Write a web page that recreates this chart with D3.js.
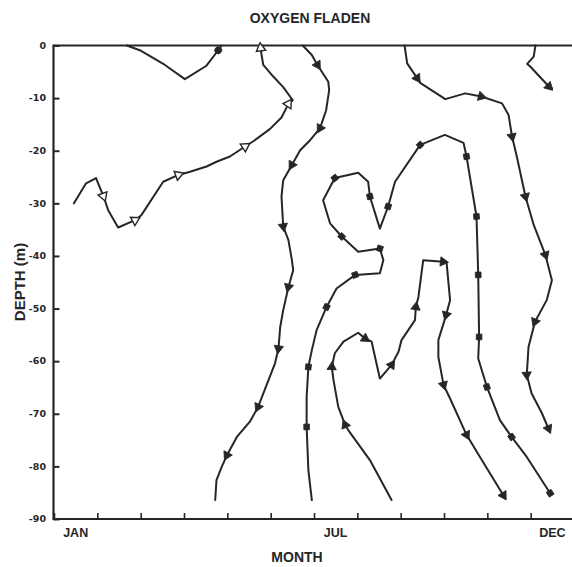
<!DOCTYPE html>
<html><head><meta charset="utf-8">
<script src="https://cdn.jsdelivr.net/npm/d3@7"></script>
<style>html,body{margin:0;padding:0;background:#fff;}svg{display:block;}</style>
</head><body>
<svg id="chart" width="572" height="567"></svg>
<script>
// ---- data (month as fractional month index from JAN=0, depth in m) ----
const title = "OXYGEN FLADEN";
const xTitle = "MONTH";
const yTitle = "DEPTH (m)";
const monthLabels = ["JAN", "JUL", "DEC"];
const monthLabelIndex = [0, 6, 11];
const monthTicks = [0,1,2,3,4,5,6,7,8,9,10,11];
const depthTicks = [0,-10,-20,-30,-40,-50,-60,-70,-80,-90];

// contour lines: [month, depth, hasMarker]
const contourA = [[1.68,0,0],[1.98,-0.9,0],[2.56,-3.7,0],[3.02,-6.4,0],[3.51,-3.9,0],[3.79,-0.9,1],[3.87,0,0]];
const contourB = [[0.46,-30.0,0],[0.74,-26.2,0],[0.97,-25.2,0],[1.10,-27.8,0],[1.14,-28.6,1],[1.25,-31.3,0],[1.48,-34.6,0],[1.87,-33.2,1],[2.02,-32.2,0],[2.52,-25.9,0],[2.87,-24.6,1],[3.14,-24.0,0],[3.52,-23.0,0],[3.75,-22.1,0],[4.06,-21.1,0],[4.41,-19.2,1],[4.60,-18.2,0],[4.98,-15.9,0],[5.25,-13.7,0],[5.41,-11.1,1],[5.51,-10.4,0],[5.29,-7.9,0],[5.06,-5.9,0],[4.83,-3.7,0],[4.79,-1.8,0],[4.77,-0.5,1]];
const contourD = [[5.74,0,0],[5.95,-1.8,0],[6.08,-3.7,1],[6.33,-6.9,0],[6.35,-8.5,0],[6.28,-12.3,0],[6.14,-15.7,1],[5.91,-18.0,0],[5.68,-19.9,0],[5.49,-22.7,1],[5.29,-25.6,0],[5.25,-28.7,0],[5.29,-34.4,1],[5.41,-37.0,0],[5.49,-40.8,0],[5.52,-42.7,0],[5.41,-45.9,1],[5.29,-50.3,0],[5.22,-53.5,0],[5.18,-57.6,1],[5.10,-60.4,0],[4.95,-63.6,0],[4.71,-68.7,1],[4.52,-71.5,0],[4.22,-74.4,0],[3.99,-77.9,1],[3.87,-80.1,0],[3.75,-82.6,0],[3.72,-86.4,0]];
const contourE = [[5.95,-86.4,0],[5.87,-80.7,0],[5.83,-72.5,1],[5.83,-66.8,0],[5.87,-61.1,1],[5.95,-57.9,0],[6.06,-54.1,0],[6.29,-49.7,1],[6.52,-46.2,0],[6.95,-43.6,1],[7.52,-43.3,0],[7.60,-40.8,0],[7.52,-38.6,1],[7.02,-39.2,0],[6.64,-36.3,1],[6.37,-33.8,0],[6.21,-29.4,0],[6.48,-25.2,1],[7.02,-24.2,0],[7.25,-25.9,0],[7.29,-28.7,1],[7.52,-34.8,0],[7.71,-30.6,1],[7.87,-25.9,0],[8.45,-18.9,1],[9.02,-17.0,0],[9.45,-18.5,0],[9.52,-21.1,1],[9.75,-32.5,1],[9.79,-43.6,1],[9.81,-55.4,1],[9.79,-59.5,0],[9.99,-64.9,1],[10.29,-71.2,0],[10.56,-74.4,1],[10.91,-78.2,0],[11.45,-85.1,1]];
const contourF = [[7.79,-86.4,0],[7.29,-78.8,0],[6.79,-73.1,0],[6.72,-72.1,1],[6.56,-68.7,0],[6.45,-63.6,0],[6.41,-61.1,1],[6.48,-58.5,0],[6.68,-56.3,0],[7.02,-54.6,0],[7.18,-55.7,1],[7.33,-56.3,0],[7.52,-63.3,0],[7.79,-60.7,1],[7.95,-58.2,0],[8.02,-56.0,0],[8.33,-52.2,0],[8.35,-49.7,1],[8.41,-47.8,0],[8.49,-42.7,0],[8.52,-40.8,0],[8.98,-41.1,1],[9.06,-41.3,0],[9.14,-48.4,0],[9.05,-51.2,1],[8.87,-56.0,0],[8.87,-59.2,0],[8.99,-64.5,1],[9.14,-67.1,0],[9.52,-74.0,1],[9.83,-78.2,0],[10.37,-85.5,1]];
const contourG = [[8.09,0,0],[8.15,-3.4,0],[8.38,-6.2,1],[8.45,-7.1,0],[9.03,-10.2,0],[9.49,-9.1,0],[9.86,-9.7,1],[10.34,-11.0,0],[10.49,-13.2,0],[10.57,-17.3,1],[10.68,-21.1,0],[10.88,-28.7,1],[11.07,-34.1,0],[11.34,-39.8,1],[11.49,-44.6,0],[11.37,-48.4,0],[11.10,-52.5,1],[10.95,-57.3,0],[10.91,-62.6,1],[11.02,-66.1,0],[11.26,-69.9,0],[11.41,-72.8,1]];
const contourH = [[11.11,0,0],[11.07,-2.1,0],[10.92,-3.5,0],[10.99,-4.0,0],[11.42,-7.8,1],[11.49,-8.1,0]];

const contours = [
  {pts: contourA, sym: d3.symbolCircle, fill: true},
  {pts: contourB, sym: d3.symbolTriangle, fill: false},
  {pts: contourD, sym: d3.symbolTriangle, fill: true},
  {pts: contourE, sym: d3.symbolSquare, fill: true},
  {pts: contourF, sym: d3.symbolTriangle, fill: true},
  {pts: contourG, sym: d3.symbolTriangle, fill: true},
  {pts: contourH, sym: d3.symbolTriangle, fill: true}
];

// ---- drawing ----
const ink = "#262626";
const svg = d3.select("#chart");
const x = d3.scaleLinear().domain([0, 12]).range([54, 574]);
const y = d3.scaleLinear().domain([0, -90]).range([45.5, 519]);

// frame
svg.append("line").attr("x1", 53.5).attr("x2", 572).attr("y1", y(0)).attr("y2", y(0))
  .attr("stroke", ink).attr("stroke-width", 2.2);
svg.append("line").attr("x1", 53.5).attr("x2", 53.5).attr("y1", y(0) - 1).attr("y2", y(-90) + 1)
  .attr("stroke", ink).attr("stroke-width", 2.2);

// y axis (ticks inward)
const yAxis = d3.axisRight(y).tickValues(depthTicks).tickSize(6).tickFormat("");
const gy = svg.append("g").attr("transform", "translate(53.5,0)").call(yAxis);
gy.select(".domain").remove();
gy.selectAll(".tick line").attr("stroke", ink).attr("stroke-width", 2);
svg.append("g").selectAll("text").data(depthTicks).join("text")
  .attr("x", 46).attr("y", d => y(d)).attr("dy", "0.35em")
  .attr("text-anchor", "end")
  .attr("font-family", "DejaVu Sans, sans-serif").attr("font-weight", "bold")
  .attr("font-size", 9.5).attr("fill", ink)
  .text(d => d);

// x axis (ticks inward, upward)
const xAxis = d3.axisTop(x).tickValues(monthTicks).tickSize(6).tickFormat("");
const gx = svg.append("g").attr("transform", `translate(0,${y(-90)})`).call(xAxis);
gx.select(".domain").remove();
gx.selectAll(".tick line").attr("stroke", ink).attr("stroke-width", 1.6);
svg.append("line").attr("x1", 53.5).attr("x2", 572).attr("y1", y(-90)).attr("y2", y(-90))
  .attr("stroke", ink).attr("stroke-width", 2.2);
svg.append("g").selectAll("text").data(monthLabels).join("text")
  .attr("x", (d, i) => x(monthLabelIndex[i] + 0.5)).attr("y", y(-90) + 18)
  .attr("text-anchor", "middle")
  .attr("font-family", "Liberation Sans, Arial, sans-serif").attr("font-weight", "bold")
  .attr("font-size", 12.5).attr("fill", ink)
  .text(d => d);

// titles
svg.append("text").attr("x", 310).attr("y", 23).attr("text-anchor", "middle")
  .attr("font-family", "Liberation Sans, Arial, sans-serif").attr("font-weight", "bold")
  .attr("font-size", 14).attr("fill", ink).text(title);
svg.append("text").attr("x", 297).attr("y", 562).attr("text-anchor", "middle")
  .attr("font-family", "Liberation Sans, Arial, sans-serif").attr("font-weight", "bold")
  .attr("font-size", 14).attr("fill", ink).text(xTitle);
svg.append("text").attr("transform", "translate(25,282) rotate(-90)").attr("text-anchor", "middle")
  .attr("font-family", "Liberation Sans, Arial, sans-serif").attr("font-weight", "bold")
  .attr("font-size", 15).attr("fill", ink).text(yTitle);

// contours
const line = d3.line().x(d => x(d[0])).y(d => y(d[1])).curve(d3.curveLinear);
const gc = svg.append("g");
contours.forEach(c => {
  gc.append("path").attr("d", line(c.pts)).attr("fill", "none")
    .attr("stroke", ink).attr("stroke-width", 2).attr("stroke-linejoin", "round").attr("stroke-linecap", "round");
  const sym = d3.symbol().type(c.sym).size(c.sym === d3.symbolSquare ? 32 : 38);
  c.pts.forEach((p, i) => {
    if (!p[2]) return;
    const a = c.pts[Math.max(0, i - 1)], b = c.pts[Math.min(c.pts.length - 1, i + 1)];
    const ang = Math.atan2(y(b[1]) - y(a[1]), x(b[0]) - x(a[0])) * 180 / Math.PI + 90;
    gc.append("path").attr("d", sym())
      .attr("transform", `translate(${x(p[0])},${y(p[1])}) rotate(${ang})`)
      .attr("fill", c.fill ? ink : "#fff").attr("stroke", ink).attr("stroke-width", c.fill ? 0.8 : 1.4);
  });
});
</script>
</body></html>
